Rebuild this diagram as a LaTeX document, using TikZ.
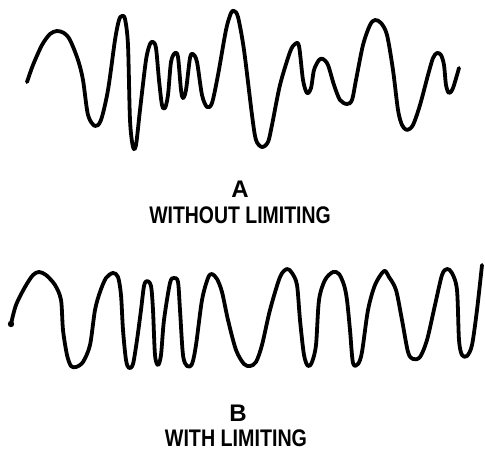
\documentclass[tikz,border=0pt]{standalone}
\usepackage{fontspec}
\setmainfont{Liberation Sans}
\begin{document}
\begin{tikzpicture}[x=1pt,y=-1pt,
  wave/.style={line width=3.8pt,line cap=round,line join=round},
  lbl/.style={font=\bfseries\fontsize{24}{25}\selectfont,inner sep=0pt,anchor=base}]
\useasboundingbox (0,0) rectangle (485,450);
% Waveform A
\draw[wave] plot[smooth,tension=0.5] coordinates{
 (27,82) (33,65) (42,45) (50,34) (57,31) (64,33) (70,40) (78,60) (83,80) (88,115) (95,126) (101,120) (108,90) (115,40) (119,20) (122,16) (125,19) (128,45) (130,120) (133,147) (136,145) (140,110) (146,60) (150,44) (153,42) (156,48) (159,80) (162,105) (165,108) (168,95) (171,62) (175,53) (178,57) (181,90) (183,98) (186,90) (190,58) (193,54) (197,62) (202,95) (207,107) (212,103) (218,75) (226,30) (231,13) (234,11) (238,17) (244,50) (252,115) (256,140) (262,147) (268,142) (272,125) (280,85) (290,52) (295,44) (299,46) (303,80) (307,93) (311,88) (314,70) (319,60) (323,59) (328,65) (334,85) (340,100) (347,104) (352,100) (356,80) (363,45) (370,25) (375,20) (381,23) (387,35) (393,70) (398,110) (402,125) (407,130) (413,125) (420,105) (428,75) (433,58) (437,53) (441,55) (444,65) (446,85) (449,93) (453,88) (459,68)};
% Waveform B
\draw[wave] plot[smooth,tension=0.5] coordinates{
 (11,324) (16,305) (25,287) (33,275) (39,272) (46,275) (55,285) (61,300) (63,330) (67,355) (71,366) (76,367) (83,362) (90,345) (95,310) (100,292) (106,278) (113,273) (118,277) (121,295) (123,330) (126,360) (129,368) (133,364) (137,340) (141,310) (144,286) (147,281) (151,286) (153,310) (155,355) (158,365) (161,355) (164,320) (170,283) (174,278) (178,282) (180,310) (183,355) (187,366) (192,364) (196,345) (202,300) (208,278) (212,274) (217,279) (222,292) (228,320) (236,350) (244,364) (250,366) (256,362) (262,345) (270,310) (280,277) (287,269) (292,273) (297,285) (300,320) (304,355) (308,366) (312,362) (316,345) (319,300) (325,280) (333,272) (339,274) (344,285) (347,300) (350,330) (353,363) (358,364) (362,352) (368,310) (375,285) (384,271) (389,277) (396,290) (402,320) (408,352) (413,359) (420,357) (427,340) (435,305) (442,275) (447,269) (452,273) (457,290) (459,340) (462,355) (467,356) (472,345) (477,310) (482,265)};
\fill (11,324) circle (3.2pt);
\node[lbl] (a) at (240,197) {A};
\node[lbl] (at) at (240,223) {\scalebox{0.81}[1]{WITHOUT LIMITING}};
\node[lbl] (b) at (238,421) {B};
\node[lbl] (bt) at (236,446) {\scalebox{0.82}[1]{WITH LIMITING}};
\end{tikzpicture}
\end{document}
